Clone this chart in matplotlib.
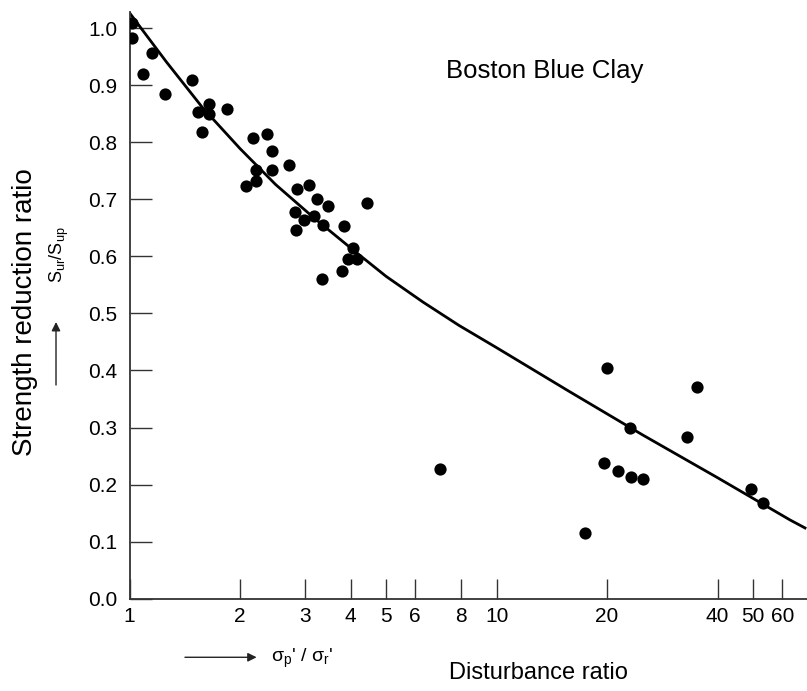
import matplotlib

matplotlib.use("Agg")
import matplotlib.pyplot as plt

plt.rcParams["font.family"] = ["Liberation Sans", "DejaVu Sans"]
plt.rcParams["mathtext.fontset"] = "custom"
plt.rcParams["mathtext.rm"] = "Liberation Sans"
plt.rcParams["mathtext.it"] = "Liberation Sans"

# measured points: disturbance ratio vs strength reduction ratio
disturbance = [1.015, 1.015, 1.148, 1.086, 1.249, 1.478, 1.538, 1.643, 1.651, 1.577,
               1.846, 2.17, 2.367, 2.438, 2.207, 2.447, 2.082, 2.211, 2.715, 2.866,
               3.088, 2.83, 2.841, 2.994, 3.179, 3.239, 3.467, 3.37, 3.341, 3.83,
               4.05, 3.944, 4.172, 3.793, 4.447, 7.0, 20.0, 35.1, 23.06, 33.1,
               19.63, 21.38, 23.3, 25.02, 17.38, 49.26, 53.15]
strength = [1.010, 0.982, 0.957, 0.920, 0.885, 0.909, 0.853, 0.868, 0.849, 0.818,
            0.859, 0.808, 0.814, 0.785, 0.752, 0.752, 0.724, 0.733, 0.761, 0.718,
            0.725, 0.677, 0.646, 0.664, 0.670, 0.700, 0.688, 0.655, 0.560, 0.654,
            0.614, 0.596, 0.596, 0.575, 0.694, 0.227, 0.404, 0.371, 0.300, 0.283,
            0.237, 0.223, 0.214, 0.209, 0.116, 0.192, 0.168]

# trend curve
curve_x = [1.0, 1.26, 1.58, 2.0, 2.5, 3.16, 4.0, 5.0, 6.3, 7.9,
           10.0, 15.8, 25.0, 40.0, 63.0, 69.2]
curve_y = [1.027, 0.941, 0.861, 0.789, 0.726, 0.669, 0.615, 0.565, 0.520, 0.479,
           0.440, 0.363, 0.287, 0.212, 0.138, 0.124]

x_ticks = [1, 2, 3, 4, 5, 6, 8, 10, 20, 40, 50, 60]
y_ticks = [0.0, 0.1, 0.2, 0.3, 0.4, 0.5, 0.6, 0.7, 0.8, 0.9, 1.0]

fig = plt.figure(figsize=(8.07, 6.91), dpi=100)
ax = fig.add_axes([0.1605, 0.1336, 0.8393, 0.8495])

ax.plot(curve_x, curve_y, color="black", lw=2.0, solid_joinstyle="round", zorder=2)
ax.plot(disturbance, strength, "o", color="black", ms=8.8, mec="none", zorder=3)

ax.set_xscale("log")
ax.set_xlim(1, 70)
ax.set_ylim(0, 1.029)
ax.set_xticks(x_ticks)
ax.set_xticklabels([str(v) for v in x_ticks])
ax.xaxis.set_minor_locator(matplotlib.ticker.NullLocator())
ax.set_yticks(y_ticks)
ax.set_yticklabels([f"{v:.1f}" for v in y_ticks])

for side in ("top", "right"):
    ax.spines[side].set_visible(False)
for side in ("left", "bottom"):
    ax.spines[side].set_color("#333333")
    ax.spines[side].set_linewidth(1.3)

ax.tick_params(axis="x", direction="in", length=14.6, width=1.0, color="#333333",
               labelsize=15, pad=6)
ax.tick_params(axis="y", direction="in", length=15.6, width=1.0, color="#333333",
               labelsize=15, pad=9)

fig.text(0.6753, 0.8867, "Boston Blue Clay", ha="center", va="baseline", fontsize=18.5)
fig.text(0.031, 0.549, "Strength reduction ratio", rotation=90, ha="center",
         va="center", fontsize=20)
fig.text(0.0731, 0.631, r"$\mathregular{S_{ur}/S_{up}}$", rotation=90, ha="center",
         va="center", fontsize=13)
fig.text(0.6667, 0.0169, "Disturbance ratio", ha="center", va="baseline", fontsize=17)
fig.text(0.3746, 0.0477, r"$\mathregular{\sigma_p}$' / $\mathregular{\sigma_r}$'",
         ha="center", va="center", fontsize=14)

arrow = dict(arrowstyle="-|>", color="#222222", lw=1.0, mutation_scale=13,
             shrinkA=0, shrinkB=0)
fig.add_artist(matplotlib.patches.FancyArrowPatch((0.0694, 0.4428), (0.0694, 0.534),
                                                  transform=fig.transFigure, **arrow))
fig.add_artist(matplotlib.patches.FancyArrowPatch((0.2292, 0.0488), (0.318, 0.0488),
                                                  transform=fig.transFigure, **arrow))

fig.savefig("out.png", dpi=100)
plt.close(fig)
